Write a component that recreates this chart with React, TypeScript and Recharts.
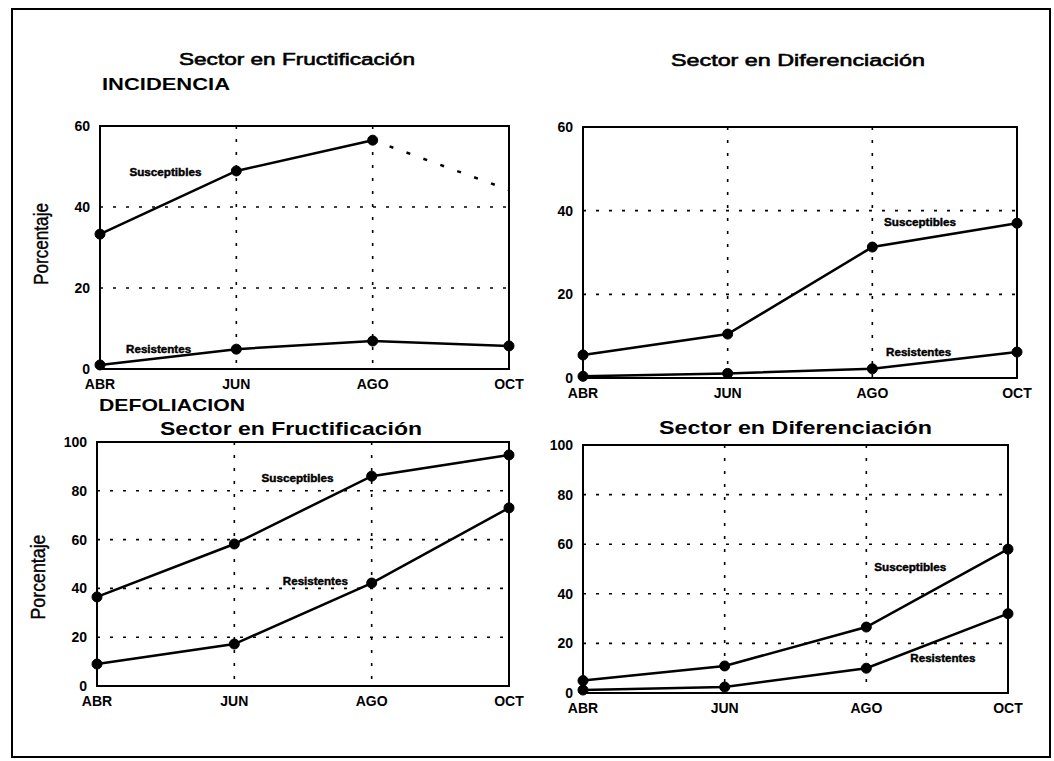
import React from 'react';
import {
  LineChart,
  Line,
  XAxis,
  YAxis,
  CartesianGrid,
  ReferenceArea,
  ReferenceDot,
} from 'recharts';

const MONTHS = ['ABR', 'JUN', 'AGO', 'OCT'];
const MONTH_IDX = [0, 1, 2, 3];
const TICKS_INC = [0, 20, 40, 60];
const TICKS_DEF = [0, 20, 40, 60, 80, 100];

// INCIDENCIA
const incFrucSusc = [33.3, 48.9, 56.5, null];
const incFrucSuscProj = [null, null, 56.5, 44.2];
const incFrucRes = [1.0, 4.9, 6.9, 5.7];
const incDifSusc = [5.5, 10.5, 31.3, 37.0];
const incDifRes = [0.4, 1.1, 2.2, 6.2];

// DEFOLIACION
const defFrucSusc = [36.5, 58.2, 86.0, 94.7];
const defFrucRes = [9.0, 17.2, 42.2, 73.0];
const defDifSusc = [5.0, 10.9, 26.6, 58.0];
const defDifRes = [1.2, 2.4, 10.0, 32.0];

// where the little "Susceptibles"/"Resistentes" tags sit, in data units [month index, value]
const incFrucTags = [[0.48, 48.4], [0.43, 4.9]];
const incDifTags = [[2.33, 37.1], [2.32, 6.0]];
const defFrucTags = [[1.46, 85.2], [1.59, 43.0]];
const defDifTags = [[2.31, 50.8], [2.54, 14.1]];

const FONT = '"Liberation Sans", Arial, Helvetica, sans-serif';

const buildRows = (susc: (number | null)[], res: (number | null)[], proj?: (number | null)[]) =>
  MONTH_IDX.map((i) => ({
    i,
    susc: susc[i],
    res: res[i],
    proj: proj ? proj[i] : null,
  }));

const Tag = ({ cx, cy, text, w }: any) => (
  <text
    x={cx}
    y={cy}
    textAnchor="middle"
    dominantBaseline="central"
    fontFamily={FONT}
    fontWeight="bold"
    fontSize={10}
    textLength={w}
    lengthAdjust="spacingAndGlyphs"
    fill="#000"
    stroke="#000"
    strokeWidth={0.4}
  >
    {text}
  </text>
);

interface PanelProps {
  rows: any[];
  yMax: number;
  yTicks: number[];
  tags: number[][];
  box: { left: number; top: number; width: number; height: number };
  plot: { left: number; right: number; top: number; bottom: number };
  projection?: boolean;
}

const Panel = ({ rows, yMax, yTicks, tags, box, plot, projection }: PanelProps) => {
  const tick = { fontSize: 14, fontWeight: 'bold', fill: '#000', fontFamily: FONT };
  return (
    <div style={{ position: 'absolute', left: box.left, top: box.top }}>
      <LineChart
        width={box.width}
        height={box.height}
        data={rows}
        margin={{ top: plot.top - box.top, right: box.left + box.width - plot.right, bottom: 0, left: 0 }}
      >
        <CartesianGrid stroke="#000" strokeWidth={1.6} strokeDasharray="3 10" />
        <XAxis
          dataKey="i"
          type="number"
          domain={[0, 3]}
          ticks={MONTH_IDX}
          interval={0}
          tickFormatter={(v) => MONTHS[v]}
          axisLine={false}
          tickLine={false}
          tickSize={8}
          tickMargin={2}
          height={box.top + box.height - plot.bottom}
          tick={tick}
        />
        <YAxis
          type="number"
          domain={[0, yMax]}
          ticks={yTicks}
          interval={0}
          axisLine={false}
          tickLine={false}
          tickSize={8}
          tickMargin={2}
          width={plot.left - box.left}
          tick={tick}
        />
        <ReferenceArea x1={0} x2={3} y1={0} y2={yMax} fill="none" stroke="#000" strokeWidth={2} />
        {projection && (
          <Line
            dataKey="proj"
            stroke="#000"
            strokeWidth={2.5}
            strokeDasharray="4 14"
            dot={false}
            isAnimationActive={false}
          />
        )}
        <Line
          dataKey="susc"
          stroke="#000"
          strokeWidth={2.5}
          dot={{ r: 5, fill: '#000', stroke: '#000', strokeWidth: 1 }}
          isAnimationActive={false}
        />
        <Line
          dataKey="res"
          stroke="#000"
          strokeWidth={2.5}
          dot={{ r: 5, fill: '#000', stroke: '#000', strokeWidth: 1 }}
          isAnimationActive={false}
        />
        <ReferenceDot
          x={tags[0][0]}
          y={tags[0][1]}
          r={0}
          shape={(p: any) => <Tag cx={p.cx} cy={p.cy} text="Susceptibles" w={72} />}
        />
        <ReferenceDot
          x={tags[1][0]}
          y={tags[1][1]}
          r={0}
          shape={(p: any) => <Tag cx={p.cx} cy={p.cy} text="Resistentes" w={65} />}
        />
      </LineChart>
    </div>
  );
};

const Title = ({ x, y, w, size, text, heavy }: any) => (
  <text
    x={x}
    y={y}
    fontFamily={FONT}
    fontSize={size}
    fontWeight={heavy ? 'bold' : 'normal'}
    stroke={heavy ? 'none' : '#000'}
    strokeWidth={heavy ? 0 : 0.6}
    textLength={w}
    lengthAdjust="spacingAndGlyphs"
    fill="#000"
  >
    {text}
  </text>
);

const AxisTitle = ({ x, y, len }: any) => (
  <text
    x={x}
    y={y}
    transform={`rotate(-90 ${x} ${y})`}
    textAnchor="middle"
    fontFamily={FONT}
    fontSize={20}
    textLength={len}
    lengthAdjust="spacingAndGlyphs"
    fill="#000"
    stroke="#000"
    strokeWidth={0.4}
  >
    Porcentaje
  </text>
);

const App = () => {
  return (
    <div
      style={{ position: 'absolute', left: 0, top: 0, width: 1054, height: 761, background: '#fff', overflow: 'hidden' }}
    >
      <Panel
        rows={buildRows(incFrucSusc, incFrucRes, incFrucSuscProj)}
        yMax={60}
        yTicks={TICKS_INC}
        tags={incFrucTags}
        projection
        box={{ left: 0, top: 90, width: 540, height: 310 }}
        plot={{ left: 100, right: 509, top: 126, bottom: 369 }}
      />
      <Panel
        rows={buildRows(incDifSusc, incDifRes)}
        yMax={60}
        yTicks={TICKS_INC}
        tags={incDifTags}
        box={{ left: 530, top: 90, width: 524, height: 310 }}
        plot={{ left: 583, right: 1017, top: 127, bottom: 378 }}
      />
      <Panel
        rows={buildRows(defFrucSusc, defFrucRes)}
        yMax={100}
        yTicks={TICKS_DEF}
        tags={defFrucTags}
        box={{ left: 0, top: 430, width: 540, height: 300 }}
        plot={{ left: 97, right: 509, top: 442, bottom: 686 }}
      />
      <Panel
        rows={buildRows(defDifSusc, defDifRes)}
        yMax={100}
        yTicks={TICKS_DEF}
        tags={defDifTags}
        box={{ left: 530, top: 430, width: 524, height: 300 }}
        plot={{ left: 583, right: 1008, top: 445, bottom: 693 }}
      />
      <svg
        width={1054}
        height={761}
        style={{ position: 'absolute', left: 0, top: 0, pointerEvents: 'none' }}
      >
        <rect x={12} y={9} width={1038} height={748} fill="none" stroke="#000" strokeWidth={2} />
        <Title x={179} y={65} w={236} size={17} text="Sector en Fructificación" />
        <Title x={102} y={90} w={128} size={16} text="INCIDENCIA" heavy />
        <Title x={671} y={66} w={254} size={17} text="Sector en Diferenciación" />
        <Title x={99} y={411} w={146} size={17} text="DEFOLIACION" heavy />
        <Title x={160} y={435} w={262} size={19} text="Sector en Fructificación" heavy />
        <Title x={659} y={434} w={273} size={19} text="Sector en Diferenciación" heavy />
        <AxisTitle x={48} y={244} len={82} />
        <AxisTitle x={45} y={577} len={85} />
      </svg>
    </div>
  );
};

export default App;
